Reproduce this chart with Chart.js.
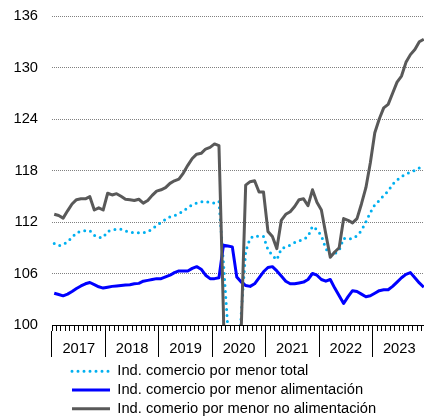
<!DOCTYPE html>
<html>
<head>
<meta charset="utf-8">
<script src="https://cdn.jsdelivr.net/npm/chart.js@4.4.0/dist/chart.umd.min.js"></script>
<style>
  html, body { margin: 0; padding: 0; background: #fff; overflow: hidden; }
  #wrap { position: relative; width: 426px; height: 416px; }
</style>
</head>
<body>
<div id="wrap"><canvas id="chart"></canvas></div>
<script>
const years = ['2017', '2018', '2019', '2020', '2021', '2022', '2023'];
const months = [];
years.forEach(y => {
    for (let m = 1; m <= 12; m++) months.push(y + '-' + String(m).padStart(2, '0'));
});

const yTicks = [100, 106, 112, 118, 124, 130, 136];

// Ind. comercio por menor total
const total = [
    109.5, 109.25, 109.35, 109.7, 110.2, 110.75, 110.9, 111.0, 111.0, 110.45, 110.2, 110.2,
    110.9, 111.05, 111.15, 111.15, 110.95, 110.8, 110.75, 110.75, 110.75, 110.85, 111.2, 111.6,
    111.95, 112.3, 112.6, 112.75, 112.95, 113.3, 113.65, 114.0, 114.2, 114.35, 114.4, 114.25,
    114.2, 114.4, 107.3, 99.6, 88, 90, 101.3, 108.6, 110.1, 110.4, 110.3, 110.3,
    108.8, 108.1, 107.6, 108.9, 109.1, 109.3, 109.6, 109.8, 110.0, 110.3, 111.5, 111.1,
    110.4, 108.9, 108.2, 108.3, 108.7, 110.1, 110.0, 110.1, 110.4, 111.0, 112.0, 113.1,
    114.0, 114.5, 115.1, 115.6, 116.4, 116.9, 117.3, 117.6, 117.8, 118.0, 118.3, 118.4
];

// Ind. comercio por menor alimentación
const food = [
    103.7, 103.55, 103.4, 103.6, 103.9, 104.25, 104.55, 104.8, 104.95, 104.7, 104.45, 104.3,
    104.4, 104.5, 104.55, 104.6, 104.65, 104.7, 104.8, 104.85, 105.1, 105.2, 105.3, 105.4,
    105.4, 105.6, 105.8, 106.1, 106.3, 106.3, 106.3, 106.6, 106.8, 106.5, 105.8, 105.4,
    105.4, 105.5, 109.3, 109.2, 109.1, 105.6, 105.0, 104.6, 104.5, 104.8, 105.5, 106.2,
    106.7, 106.8, 106.3, 105.7, 105.1, 104.8, 104.8, 104.9, 105.0, 105.3, 106.0, 105.8,
    105.3, 105.1, 105.3, 104.3, 103.4, 102.5, 103.3, 104.0, 103.9, 103.6, 103.3, 103.4,
    103.7, 104.0, 104.1, 104.1, 104.5, 105.0, 105.5, 105.9, 106.1, 105.5, 104.9, 104.4
];

// Ind. comerio por menor no alimentación
const nonFood = [
    112.9, 112.75, 112.45, 113.3, 114.1, 114.6, 114.7, 114.7, 114.95, 113.4, 113.65, 113.4,
    115.35, 115.15, 115.3, 115.0, 114.65, 114.6, 114.5, 114.65, 114.2, 114.5, 115.1, 115.6,
    115.75, 116.0, 116.5, 116.8, 117.0, 117.7, 118.6, 119.4, 119.9, 120.0, 120.5, 120.7,
    121.1, 120.9, 101.5, 75, 70, 80, 99.6, 116.3, 116.7, 116.8, 115.5, 115.5,
    110.9, 110.3, 108.9, 112.2, 112.9, 113.2, 113.8, 114.6, 114.7, 113.9, 115.75, 114.3,
    113.4, 110.6, 107.9, 108.5, 109.0, 112.4, 112.2, 111.9, 112.4, 114.1, 116.0, 118.9,
    122.4, 124.0, 125.3, 125.7, 127.0, 128.3, 129.0, 130.6, 131.5, 132.1, 133.0, 133.3
];

const FONT = "'Liberation Sans', Arial, Helvetica, sans-serif";
Chart.defaults.font.family = FONT;
Chart.defaults.color = '#000';

const LEGEND_X = 72;
const LEGEND_PAD = 4;

// legend rows start under the plot, not at the canvas edge
const legendShift = {
    id: 'legendShift',
    afterLayout(chart) {
        chart.legend.left = LEGEND_X - LEGEND_PAD;
        chart.legend.top += 3;
        chart.legend.bottom += 3;
    }
};

new Chart(document.getElementById('chart'), {
    type: 'line',
    data: {
        labels: months,
        datasets: [
            {
                label: 'Ind. comercio por menor total',
                data: total,
                borderColor: '#00b0f0',
                borderWidth: 3,
                borderDash: [0, 6],
                borderCapStyle: 'round',
                order: 3,
            },
            {
                label: 'Ind. comercio por menor alimentación',
                data: food,
                borderColor: '#0000ff',
                borderWidth: 3,
                order: 2,
            },
            {
                label: 'Ind. comerio por menor no alimentación',
                data: nonFood,
                borderColor: '#595959',
                borderWidth: 3,
                order: 1,
            }
        ]
    },
    plugins: [legendShift],
    options: {
        responsive: true,
        maintainAspectRatio: false,
        animation: false,
        layout: { padding: { top: 16, right: 0, bottom: 0, left: 0 } },
        elements: {
            point: { radius: 0, hoverRadius: 0 },
            line: { tension: 0, fill: false, borderJoinStyle: 'round' }
        },
        datasets: { line: { clip: 0 } },
        scales: {
            x: {
                type: 'category',
                offset: true,
                grid: { offset: true, drawOnChartArea: false, tickLength: 6, color: '#000', lineWidth: 1 },
                border: { display: true, color: '#000', width: 1 },
                ticks: { display: false }
            },
            x2: {
                type: 'category',
                labels: years,
                position: 'bottom',
                offset: true,
                weight: 1,
                afterFit: (scale) => { scale.height = 26; },
                grid: { offset: true, drawOnChartArea: false, tickLength: 26, color: '#000', lineWidth: 1 },
                border: { display: false },
                ticks: { padding: -17, autoSkip: false, maxRotation: 0, font: { size: 14.7 }, color: '#000' }
            },
            y: {
                min: 100,
                max: 136,
                afterBuildTicks: (scale) => { scale.ticks = yTicks.map(v => ({ value: v })); },
                afterFit: (scale) => {
                    scale.width = 52;
                    scale.paddingTop = 0;
                    scale.paddingBottom = 0;
                },
                grid: { color: '#808080', lineWidth: 1, drawTicks: false },
                border: { display: false, dash: [1, 1] },
                ticks: { padding: 14, font: { size: 14.7 }, color: '#000' }
            }
        },
        plugins: {
            legend: {
                display: true,
                position: 'bottom',
                align: 'start',
                maxHeight: 59,
                labels: {
                    usePointStyle: true,
                    pointStyle: 'line',
                    pointStyleWidth: 38,
                    padding: LEGEND_PAD,
                    color: '#000',
                    font: { size: 14.7 },
                    sort: (a, b) => a.datasetIndex - b.datasetIndex,
                    // point style drops the dash, take it back from the dataset
                    generateLabels: (chart) => {
                        const items = Chart.defaults.plugins.legend.labels.generateLabels(chart);
                        items.forEach(item => {
                            const ds = chart.data.datasets[item.datasetIndex];
                            item.lineDash = ds.borderDash || [];
                            item.lineCap = ds.borderCapStyle || 'butt';
                            item.lineWidth = ds.borderWidth;
                            item.strokeStyle = ds.borderColor;
                        });
                        return items;
                    }
                }
            },
            tooltip: { enabled: false }
        }
    }
});
</script>
</body>
</html>
